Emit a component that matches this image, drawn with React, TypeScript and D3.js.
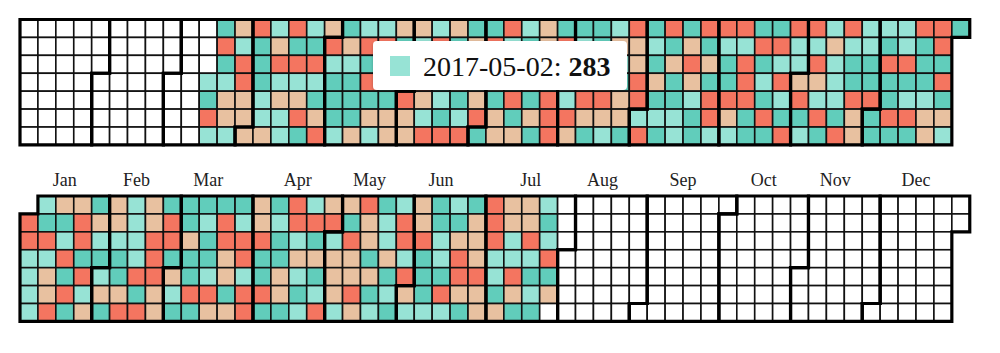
import React from 'react';
import * as d3 from 'd3';

// ---- data ----
const COLORS = ['#61cdbb', '#97e3d5', '#e8c1a0', '#f47560'];
const LEVELS = ['A', 'B', 'C', 'D'];
const YEARS = [2017, 2018];
const MONTH_LABELS = ['Jan', 'Feb', 'Mar', 'Apr', 'May', 'Jun', 'Jul', 'Aug', 'Sep', 'Oct', 'Nov', 'Dec'];

// day levels, one string per week (Sun..Sat), starting at the given date
const START_2017 = '2017-03-15';
const WEEKS_2017 = [
  'BADB', 'ADABCCB', 'CBDDCCC', 'DAAABBC', 'BCDBCBB', 'DADBCDA', 'BADBACD', 'CDBAAAB',
  'ACBAAAC', 'BDADACB', 'BDCAACC', 'CADBDCC', 'CBADCBD', 'BDCABAD', 'CABCABD', 'ACDBCDA',
  'ADACACC', 'DBCADAC', 'BADDACA', 'CCBADDD', 'ADABBDC', 'ABCDDCA', 'AADCDCB', 'BCBACCA',
  'DCCDDBD', 'ABACABA', 'DACAABB', 'ACDCBAA', 'DACADDB', 'DBAADCB', 'DBDDDAA', 'ADABADA',
  'ADBDBAD', 'DBBCDAB', 'DBDCBDA', 'BCBBBAD', 'DBAADCC', 'BBAADAA', 'BADAADA', 'BBDABDA',
  'DAAABCC', 'DDADACB', 'A',
];
const START_2018 = '2018-01-01';
const WEEKS_2018 = [
  'DDBBBB', 'BADBCCD', 'CABDADA', 'CDDADBC', 'ACBABCA', 'CCBAACD', 'BBBBDAD', 'CCDDDCC',
  'ADDACBA', 'AACAADA', 'ABAABDC', 'ADDCCAC', 'ABDDBDD', 'CCDAADA', 'ABAACCA', 'DDBCBAB',
  'BDACABD', 'CDBCCCB', 'CADCCDC', 'DCCACAB', 'ABBCABA', 'BDDBDCB', 'CCDAAAB', 'AABBADB',
  'BACDDCA', 'ACCCDCC', 'DDDBBAC', 'CCBBDCA', 'CCDBABA', 'BABDAC',
];
const TOOLTIP_DAY = '2017-05-02';
const TOOLTIP_VALUE = 283;

// ---- layout ----
const W = 1000;
const H = 353;
const CELL = 17.92;
const X0 = 20;
const YEAR_Y = [19.5, 196];
const SERIF = "'Liberation Serif', 'Times New Roman', Times, serif";

const parse = d3.timeParse('%Y-%m-%d');
const fmt = d3.timeFormat('%Y-%m-%d');

function expand(start: string, weeks: string[]) {
  const out = new Map<string, number>();
  let d = parse(start)!;
  weeks.join('').split('').forEach((ch) => {
    out.set(fmt(d), LEVELS.indexOf(ch));
    d = d3.timeDay.offset(d, 1);
  });
  return out;
}

const values = new Map<string, number>([
  ...expand(START_2017, WEEKS_2017),
  ...expand(START_2018, WEEKS_2018),
]);

const color = d3.scaleOrdinal<number, string>().domain([0, 1, 2, 3]).range(COLORS);
const x = d3.scaleLinear().domain([0, 1]).range([X0, X0 + CELL]);
const row = d3.scaleLinear().domain([0, 1]).range([0, CELL]);

const week = (d: Date) => d3.timeWeek.count(d3.timeYear(d), d);

export default function App() {
  const tip = parse(TOOLTIP_DAY)!;
  const tipLevel = values.get(TOOLTIP_DAY)!;
  return (
    <svg width={W} height={H} style={{ position: 'absolute', left: 0, top: 0, background: '#fff' }}>
      <defs>
        <filter id="shadow" x="-10%" y="-30%" width="120%" height="170%">
          <feDropShadow dx="0" dy="1" stdDeviation="1.5" floodColor="#000" floodOpacity="0.25" />
        </filter>
      </defs>
      {YEARS.map((yr, yi) => {
        const y0 = YEAR_Y[yi];
        const days = d3.timeDays(new Date(yr, 0, 1), new Date(yr + 1, 0, 1));
        const months = d3.timeMonths(new Date(yr, 0, 1), new Date(yr + 1, 0, 1));
        return (
          <g key={yr}>
            {days.map((d) => {
              const k = fmt(d);
              const v = values.get(k);
              return (
                <rect
                  key={k}
                  x={x(week(d))}
                  y={y0 + row(d.getDay())}
                  width={CELL}
                  height={CELL}
                  fill={v === undefined ? '#ffffff' : color(v)}
                  stroke="#111"
                  strokeWidth={1.6}
                />
              );
            })}
            {months.map((m, mi) => {
              const last = new Date(yr, m.getMonth() + 1, 0);
              const w0 = week(m);
              const w1 = week(last);
              const d0 = m.getDay();
              const d1 = last.getDay();
              const pts: [number, number][] = [
                [x(w0 + 1), y0 + row(d0)],
                [x(w0), y0 + row(d0)],
                [x(w0), y0 + row(7)],
                [x(w1), y0 + row(7)],
                [x(w1), y0 + row(d1 + 1)],
                [x(w1 + 1), y0 + row(d1 + 1)],
                [x(w1 + 1), y0],
                [x(w0 + 1), y0],
              ];
              const path = d3.line()(pts) + 'Z';
              return (
                <path key={mi} d={path} fill="none" stroke="#000" strokeWidth={3.2} strokeLinejoin="miter" />
              );
            })}
            {yi === 1 &&
              months.map((m, mi) => {
                const last = new Date(yr, m.getMonth() + 1, 0);
                const cx = (x(week(m)) + x(week(last) + 1)) / 2;
                return (
                  <text
                    key={'l' + mi}
                    x={cx}
                    y={y0 - 10}
                    textAnchor="middle"
                    fontFamily={SERIF}
                    fontSize={18}
                    fill="#222"
                  >
                    {MONTH_LABELS[m.getMonth()]}
                  </text>
                );
              })}
          </g>
        );
      })}
      <g transform="translate(373,41)">
        <rect width={254} height={49} rx={4} fill="#fff" filter="url(#shadow)" />
        <rect x={17} y={15} width={20} height={20} fill={color(tipLevel)} />
        <text x={50} y={35} fontFamily={SERIF} fontSize={28} fill="#111">
          {fmt(tip)}: <tspan fontWeight="bold">{TOOLTIP_VALUE}</tspan>
        </text>
      </g>
    </svg>
  );
}
